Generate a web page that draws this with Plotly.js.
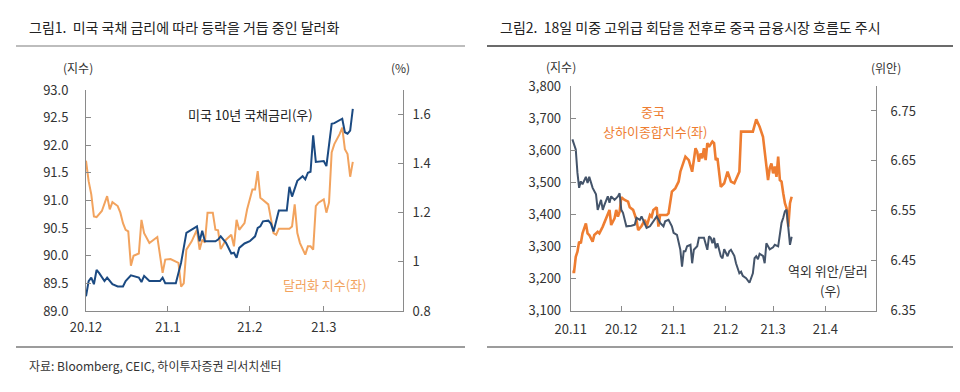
<!DOCTYPE html>
<html><head><meta charset="utf-8">
<script src="https://cdn.plot.ly/plotly-3.0.1.min.js"></script>
<style>html,body{margin:0;padding:0;background:#fff;} #chart{width:960px;height:392px;}</style>
</head><body><div id="chart"></div><script>
// ---- Figure 1: Dollar index (left axis) & US 10Y yield (right axis) ----
const dxyDates = ['2020-12-01','2020-12-02','2020-12-03','2020-12-04','2020-12-05','2020-12-07','2020-12-09','2020-12-10','2020-12-11','2020-12-13','2020-12-14','2020-12-15','2020-12-16','2020-12-17','2020-12-18','2020-12-19','2020-12-21','2020-12-22','2020-12-23','2020-12-25','2020-12-28','2020-12-30','2020-12-31','2021-01-02','2021-01-05','2021-01-06','2021-01-07','2021-01-08','2021-01-10','2021-01-12','2021-01-13','2021-01-14','2021-01-15','2021-01-16','2021-01-18','2021-01-19','2021-01-20','2021-01-21','2021-01-23','2021-01-25','2021-01-26','2021-01-27','2021-01-28','2021-01-30','2021-01-31','2021-02-02','2021-02-03','2021-02-04','2021-02-05','2021-02-07','2021-02-08','2021-02-10','2021-02-11','2021-02-12','2021-02-16','2021-02-17','2021-02-18','2021-02-19','2021-02-20','2021-02-22','2021-02-23','2021-02-24','2021-02-25','2021-02-26','2021-02-27','2021-03-01','2021-03-02','2021-03-03','2021-03-04','2021-03-05','2021-03-07','2021-03-08','2021-03-09','2021-03-10','2021-03-11','2021-03-12'];
const dxyValues = [91.72,91.35,91.11,90.71,90.70,90.81,91.08,90.84,90.97,90.90,90.78,90.59,90.47,90.44,89.82,90.00,90.04,90.65,90.41,90.23,90.34,89.69,89.93,89.94,89.87,89.44,89.50,90.11,90.26,90.47,90.11,90.29,90.24,90.78,90.78,90.47,90.46,90.12,90.29,90.38,90.17,90.65,90.47,90.59,90.84,91.20,91.20,91.53,91.05,90.97,90.93,90.41,90.38,90.49,90.49,90.53,90.93,90.41,90.23,90.02,90.17,90.17,90.11,90.90,90.96,91.02,90.78,90.96,91.87,92.02,92.20,92.32,91.93,91.84,91.43,91.70];

const tnxDates = ['2020-12-01','2020-12-02','2020-12-03','2020-12-04','2020-12-05','2020-12-06','2020-12-08','2020-12-09','2020-12-11','2020-12-13','2020-12-15','2020-12-16','2020-12-18','2020-12-21','2020-12-22','2020-12-23','2020-12-25','2020-12-29','2020-12-30','2020-12-31','2021-01-04','2021-01-06','2021-01-08','2021-01-10','2021-01-12','2021-01-13','2021-01-14','2021-01-15','2021-01-19','2021-01-20','2021-01-21','2021-01-23','2021-01-25','2021-01-26','2021-01-27','2021-01-28','2021-01-30','2021-02-01','2021-02-03','2021-02-04','2021-02-05','2021-02-06','2021-02-08','2021-02-09','2021-02-10','2021-02-12','2021-02-15','2021-02-16','2021-02-17','2021-02-19','2021-02-21','2021-02-22','2021-02-23','2021-02-24','2021-02-25','2021-02-26','2021-03-01','2021-03-02','2021-03-04','2021-03-05','2021-03-08','2021-03-09','2021-03-10','2021-03-11','2021-03-12'];
const tnxValues = [0.86,0.922,0.936,0.909,0.967,0.954,0.922,0.936,0.909,0.900,0.900,0.922,0.945,0.936,0.918,0.943,0.922,0.922,0.936,0.913,0.913,0.997,1.118,1.131,1.145,1.084,1.127,1.084,1.084,1.091,1.104,1.078,1.034,1.037,1.017,1.057,1.075,1.084,1.104,1.138,1.145,1.165,1.168,1.156,1.124,1.209,1.209,1.306,1.266,1.330,1.349,1.336,1.363,1.367,1.515,1.407,1.411,1.390,1.562,1.565,1.583,1.528,1.522,1.535,1.623];

const fig1XTickVals = ['2020-12-01','2021-01-01','2021-02-01','2021-03-01'];
const fig1XTickText = ['20.12','21.1','21.2','21.3'];
const fig1LeftTicks = [89.0,89.5,90.0,90.5,91.0,91.5,92.0,92.5,93.0];
const fig1LeftText = ['89.0','89.5','90.0','90.5','91.0','91.5','92.0','92.5','93.0'];
const fig1RightTicks = [0.8,1.0,1.2,1.4,1.6];
const fig1RightText = ['0.8','1','1.2','1.4','1.6'];

// ---- Figure 2: Shanghai Composite (left axis) & offshore CNY/USD (right axis) ----
const shDates = ['2020-11-02','2020-11-03','2020-11-04','2020-11-05','2020-11-06','2020-11-07','2020-11-08','2020-11-10','2020-11-11','2020-11-12','2020-11-14','2020-11-15','2020-11-17','2020-11-18','2020-11-20','2020-11-22','2020-11-24','2020-11-25','2020-11-27','2020-11-28','2020-11-29','2020-11-30','2020-12-01','2020-12-03','2020-12-05','2020-12-06','2020-12-08','2020-12-10','2020-12-11','2020-12-13','2020-12-15','2020-12-16','2020-12-18','2020-12-19','2020-12-20','2020-12-22','2020-12-23','2020-12-24','2020-12-28','2020-12-29','2020-12-31','2021-01-02','2021-01-04','2021-01-05','2021-01-06','2021-01-08','2021-01-10','2021-01-11','2021-01-12','2021-01-13','2021-01-14','2021-01-15','2021-01-16','2021-01-17','2021-01-18','2021-01-19','2021-01-20','2021-01-21','2021-01-22','2021-01-24','2021-01-25','2021-01-26','2021-01-27','2021-01-29','2021-01-31','2021-02-02','2021-02-04','2021-02-06','2021-02-09','2021-02-10','2021-02-17','2021-02-19','2021-02-21','2021-02-23','2021-02-24','2021-02-25','2021-02-26','2021-02-27','2021-02-28','2021-03-01','2021-03-02','2021-03-03','2021-03-04','2021-03-05','2021-03-06','2021-03-07','2021-03-08','2021-03-09','2021-03-10','2021-03-11','2021-03-12'];
const shValues = [3221,3221,3268,3284,3315,3310,3341,3372,3341,3336,3315,3336,3346,3341,3362,3388,3414,3367,3388,3414,3393,3408,3453,3445,3440,3422,3414,3383,3351,3364,3383,3362,3398,3393,3414,3422,3362,3398,3398,3403,3471,3481,3502,3533,3549,3580,3569,3549,3533,3569,3606,3595,3564,3590,3575,3606,3569,3622,3611,3627,3622,3569,3575,3486,3497,3533,3502,3497,3533,3658,3658,3696,3673,3642,3600,3549,3507,3544,3559,3528,3549,3517,3580,3507,3502,3466,3435,3419,3362,3435,3455];

const cnyDates = ['2020-11-02','2020-11-03','2020-11-04','2020-11-05','2020-11-06','2020-11-07','2020-11-08','2020-11-10','2020-11-11','2020-11-12','2020-11-13','2020-11-14','2020-11-16','2020-11-17','2020-11-19','2020-11-20','2020-11-21','2020-11-22','2020-11-23','2020-11-24','2020-11-25','2020-11-27','2020-11-29','2020-11-30','2020-12-01','2020-12-02','2020-12-04','2020-12-07','2020-12-09','2020-12-10','2020-12-12','2020-12-13','2020-12-15','2020-12-16','2020-12-18','2020-12-20','2020-12-22','2020-12-24','2020-12-26','2020-12-27','2020-12-29','2020-12-31','2021-01-01','2021-01-03','2021-01-05','2021-01-06','2021-01-07','2021-01-08','2021-01-09','2021-01-11','2021-01-12','2021-01-13','2021-01-15','2021-01-16','2021-01-17','2021-01-19','2021-01-21','2021-01-22','2021-01-23','2021-01-24','2021-01-25','2021-01-26','2021-01-27','2021-01-29','2021-01-30','2021-01-31','2021-02-02','2021-02-03','2021-02-04','2021-02-06','2021-02-07','2021-02-09','2021-02-10','2021-02-11','2021-02-13','2021-02-15','2021-02-17','2021-02-18','2021-02-19','2021-02-20','2021-02-21','2021-02-23','2021-02-24','2021-02-25','2021-02-26','2021-02-27','2021-03-01','2021-03-02','2021-03-04','2021-03-05','2021-03-06','2021-03-07','2021-03-08','2021-03-09','2021-03-10','2021-03-11','2021-03-12'];
const cnyValues = [6.693,6.683,6.673,6.626,6.596,6.609,6.603,6.618,6.606,6.618,6.609,6.596,6.583,6.552,6.572,6.552,6.562,6.572,6.579,6.566,6.579,6.572,6.579,6.585,6.552,6.546,6.519,6.520,6.522,6.536,6.532,6.539,6.522,6.516,6.519,6.529,6.539,6.526,6.519,6.529,6.532,6.519,6.506,6.502,6.472,6.438,6.469,6.469,6.479,6.482,6.445,6.472,6.479,6.496,6.496,6.496,6.472,6.499,6.496,6.485,6.496,6.475,6.485,6.459,6.455,6.473,6.459,6.469,6.472,6.460,6.445,6.425,6.428,6.420,6.415,6.406,6.425,6.455,6.459,6.453,6.464,6.460,6.445,6.485,6.479,6.473,6.477,6.482,6.479,6.506,6.526,6.536,6.549,6.552,6.515,6.482,6.498];

const fig2XTickVals = ['2020-11-01','2020-12-01','2021-01-01','2021-02-01','2021-03-01','2021-04-01'];
const fig2XTickText = ['20.11','20.12','21.1','21.2','21.3','21.4'];
const fig2LeftTicks = [3100,3200,3300,3400,3500,3600,3700,3800];
const fig2LeftText = ['3,100','3,200','3,300','3,400','3,500','3,600','3,700','3,800'];
const fig2RightTicks = [6.35,6.45,6.55,6.65,6.75];
const fig2RightText = ['6.35','6.45','6.55','6.65','6.75'];

// ---- styling helpers ----
const W = 960, H = 392;
const px = v => v / W;
const py = v => 1 - v / H;
const FONT = '"Noto Sans CJK KR", "Noto Sans", sans-serif';
const axisColor = '#8a8a8a';
const tickFont = {family: FONT, size: 13, color: '#333'};

function yAxis(extra) {
  return Object.assign({
    showgrid: false, zeroline: false, showline: true, linecolor: axisColor, linewidth: 1,
    ticks: 'inside', ticklen: 5, tickcolor: axisColor, tickfont: tickFont, tickmode: 'array',
    fixedrange: true
  }, extra);
}
function xAxis(extra) {
  return Object.assign({
    type: 'date', showgrid: false, zeroline: false, showline: true, linecolor: axisColor, linewidth: 1,
    ticks: 'inside', ticklen: 5, tickcolor: axisColor, tickfont: tickFont, tickmode: 'array',
    ticklabelstandoff: 4, fixedrange: true
  }, extra);
}

const traces = [
  {x: dxyDates, y: dxyValues, xaxis: 'x', yaxis: 'y', type: 'scatter', mode: 'lines',
   line: {color: '#f2a35e', width: 2}},
  {x: tnxDates, y: tnxValues, xaxis: 'x', yaxis: 'y2', type: 'scatter', mode: 'lines',
   line: {color: '#1b4a82', width: 2}},
  {x: shDates, y: shValues, xaxis: 'x2', yaxis: 'y3', type: 'scatter', mode: 'lines',
   line: {color: '#ee7d31', width: 2.6}},
  {x: cnyDates, y: cnyValues, xaxis: 'x2', yaxis: 'y4', type: 'scatter', mode: 'lines',
   line: {color: '#44546a', width: 2}}
];

function ann(text, x, y, opts) {
  return Object.assign({text: text, x: px(x), y: py(y), xref: 'paper', yref: 'paper',
    showarrow: false, xanchor: 'center', yanchor: 'middle',
    font: {family: FONT, size: 13, color: '#333'}}, opts || {});
}

const unitFont = {family: FONT, size: 12, color: '#333'};

const layout = {
  width: W, height: H,
  margin: {l: 0, r: 0, t: 0, b: 0},
  paper_bgcolor: '#fff', plot_bgcolor: '#fff',
  showlegend: false, hovermode: false,
  xaxis: xAxis({domain: [px(86), px(403)], anchor: 'y',
    range: ['2020-12-01', '2021-03-31'], tickvals: fig1XTickVals, ticktext: fig1XTickText}),
  yaxis: yAxis({domain: [py(311), py(90)], anchor: 'x', range: [89, 93],
    tickvals: fig1LeftTicks, ticktext: fig1LeftText, ticklabelstandoff: 14}),
  yaxis2: yAxis({domain: [py(311), py(90)], anchor: 'x', overlaying: 'y', side: 'right',
    range: [0.8, 1.7], tickvals: fig1RightTicks, ticktext: fig1RightText, ticklabelstandoff: 6}),
  xaxis2: xAxis({domain: [px(570.7), px(876)], anchor: 'y3',
    range: ['2020-11-01', '2021-05-01'], tickvals: fig2XTickVals, ticktext: fig2XTickText,
    ticklabelstandoff: 7}),
  yaxis3: yAxis({domain: [py(310.7), py(86)], anchor: 'x2', range: [3100, 3800],
    tickvals: fig2LeftTicks, ticktext: fig2LeftText, ticklabelstandoff: 6}),
  yaxis4: yAxis({domain: [py(310.7), py(86)], anchor: 'x2', overlaying: 'y3', side: 'right',
    range: [6.35, 6.80], tickvals: fig2RightTicks, ticktext: fig2RightText, ticklabelstandoff: 11}),
  shapes: [
    {type: 'line', xref: 'paper', yref: 'paper', x0: px(16), x1: px(465), y0: py(46), y1: py(46),
     line: {color: '#bdbdbd', width: 2}},
    {type: 'line', xref: 'paper', yref: 'paper', x0: px(487), x1: px(953), y0: py(46), y1: py(46),
     line: {color: '#3a3a3a', width: 1.5}},
    {type: 'line', xref: 'paper', yref: 'paper', x0: px(16), x1: px(465), y0: py(347), y1: py(347),
     line: {color: '#3a3a3a', width: 1.2}},
    {type: 'line', xref: 'paper', yref: 'paper', x0: px(487), x1: px(953), y0: py(347), y1: py(347),
     line: {color: '#3a3a3a', width: 1.2}}
  ],
  annotations: [
    ann('그림1.  미국 국채 금리에 따라 등락을 거듭 중인 달러화', 27, 26.7,
        {xanchor: 'left', font: {family: FONT, size: 14, color: '#222'}}),
    ann('그림2.  18일 미중 고위급 회담을 전후로 중국 금융시장 흐름도 주시', 498, 26.7,
        {xanchor: 'left', font: {family: FONT, size: 14, color: '#222'}}),
    ann('자료: Bloomberg, CEIC, 하이투자증권 리서치센터', 27, 365,
        {xanchor: 'left', font: {family: FONT, size: 12, color: '#333'}}),
    ann('(지수)', 78, 67, {font: unitFont}),
    ann('(%)', 400, 67, {font: unitFont}),
    ann('(지수)', 560.5, 66, {font: unitFont}),
    ann('(위안)', 885.5, 67, {font: unitFont}),
    ann('미국 10년 국채금리(우)', 250, 114, {font: {family: FONT, size: 13, color: '#222'}}),
    ann('달러화 지수(좌)', 324, 284, {font: {family: FONT, size: 13, color: '#f2a35e'}}),
    ann('중국', 653, 111.7, {font: {family: FONT, size: 13, color: '#ee7d31'}}),
    ann('상하이종합지수(좌)', 655, 131.7, {font: {family: FONT, size: 13, color: '#ee7d31'}}),
    ann('역외 위안/달러', 828, 270, {font: {family: FONT, size: 13, color: '#333'}}),
    ann('(우)', 830, 290, {font: {family: FONT, size: 13, color: '#333'}})
  ]
};

Plotly.newPlot('chart', traces, layout, {staticPlot: true, displayModeBar: false});
</script></body></html>
